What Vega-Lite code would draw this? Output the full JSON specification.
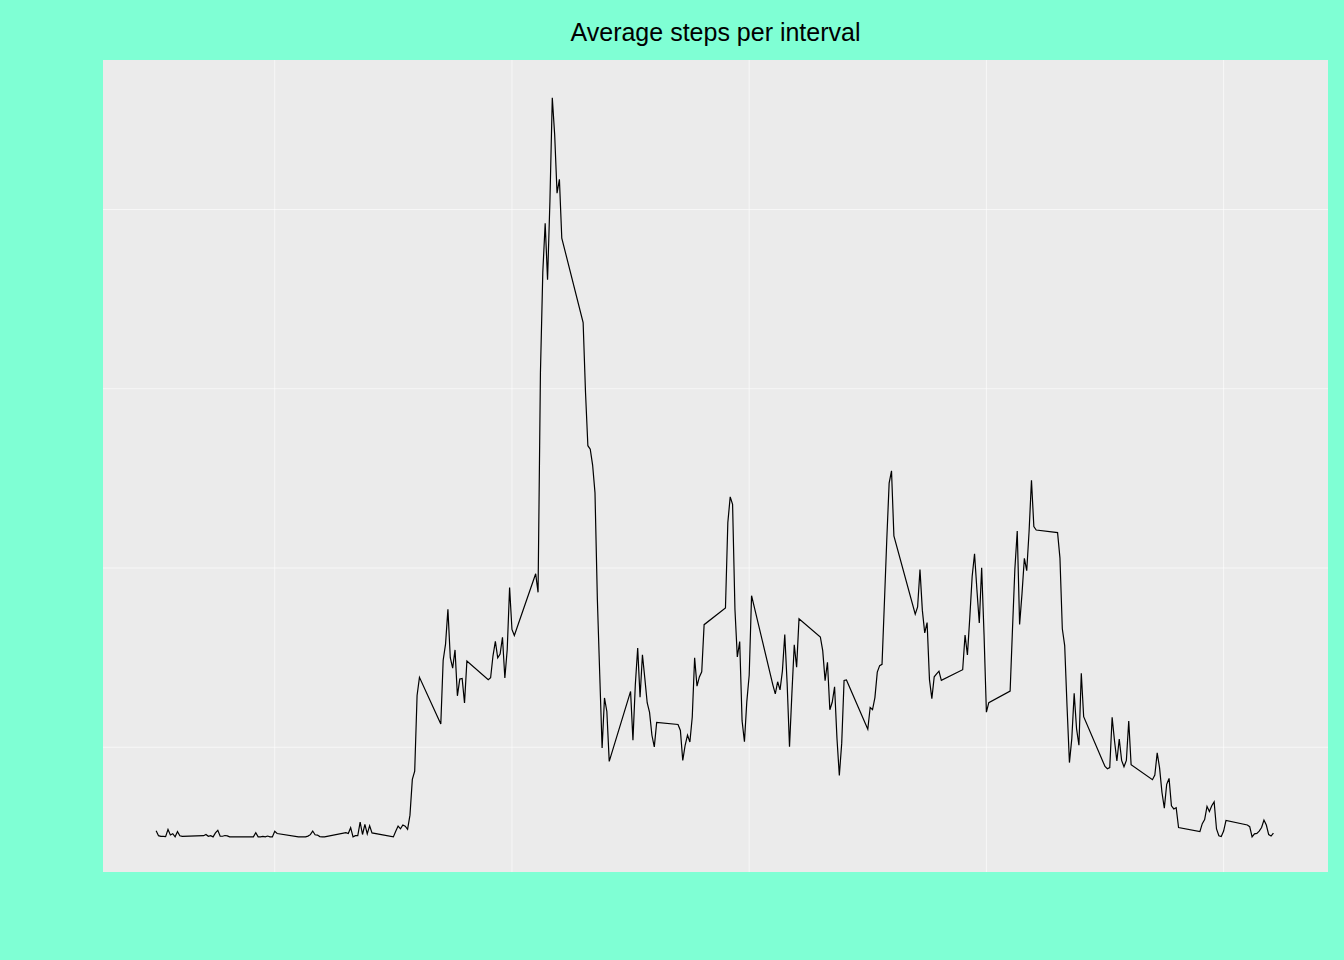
{
  "$schema": "https://vega.github.io/schema/vega-lite/v6.json",
  "autosize": {"type": "none"},
  "padding": {"left": 103, "top": 60, "right": 16, "bottom": 88},
  "width": 1225,
  "height": 812,
  "background": "#7FFFD4",
  "config": {
    "font": "Liberation Sans",
    "view": {"fill": "#EBEBEB", "stroke": null},
    "axis": {"domain": false, "gridColor": "#FFFFFF", "tickColor": "#333333", "tickSize": 5, "labelColor": "#4D4D4D", "labelFontSize": 16, "titleFontSize": 21, "titleFontWeight": "normal", "titleColor": "#000000", "labelPadding": 4}
  },
  "title": {"text": "Average steps per interval", "fontSize": 25, "fontWeight": "normal", "color": "#000000", "anchor": "middle", "offset": 14},
  "datasets": {
    "minorx": [{"v": 250}, {"v": 750}, {"v": 1250}, {"v": 1750}, {"v": 2250}],
    "minory": [{"v": 25}, {"v": 75}, {"v": 125}, {"v": 175}],
    "steps": [
{"interval":0,"steps":1.717},{"interval":5,"steps":0.34},{"interval":10,"steps":0.132},{"interval":15,"steps":0.151},{"interval":20,"steps":0.075},{"interval":25,"steps":2.094},{"interval":30,"steps":0.528},{"interval":35,"steps":0.868},{"interval":40,"steps":0},{"interval":45,"steps":1.472},{"interval":50,"steps":0.302},{"interval":55,"steps":0.132},
{"interval":100,"steps":0.321},{"interval":105,"steps":0.679},{"interval":110,"steps":0.151},{"interval":115,"steps":0.34},{"interval":120,"steps":0},{"interval":125,"steps":1.113},{"interval":130,"steps":1.83},{"interval":135,"steps":0.17},{"interval":140,"steps":0.17},{"interval":145,"steps":0.377},{"interval":150,"steps":0.264},{"interval":155,"steps":0},
{"interval":200,"steps":0},{"interval":205,"steps":0},{"interval":210,"steps":1.132},{"interval":215,"steps":0},{"interval":220,"steps":0},{"interval":225,"steps":0.132},{"interval":230,"steps":0},{"interval":235,"steps":0.226},{"interval":240,"steps":0},{"interval":245,"steps":0},{"interval":250,"steps":1.547},{"interval":255,"steps":0.943},
{"interval":300,"steps":0},{"interval":305,"steps":0},{"interval":310,"steps":0},{"interval":315,"steps":0},{"interval":320,"steps":0.208},{"interval":325,"steps":0.623},{"interval":330,"steps":1.623},{"interval":335,"steps":0.585},{"interval":340,"steps":0.491},{"interval":345,"steps":0.075},{"interval":350,"steps":0},{"interval":355,"steps":0},
{"interval":400,"steps":1.189},{"interval":405,"steps":0.943},{"interval":410,"steps":2.566},{"interval":415,"steps":0},{"interval":420,"steps":0.34},{"interval":425,"steps":0.358},{"interval":430,"steps":4.113},{"interval":435,"steps":0.66},{"interval":440,"steps":3.491},{"interval":445,"steps":0.83},{"interval":450,"steps":3.113},{"interval":455,"steps":1.113},
{"interval":500,"steps":0},{"interval":505,"steps":1.566},{"interval":510,"steps":3.0},{"interval":515,"steps":2.245},{"interval":520,"steps":3.321},{"interval":525,"steps":2.962},{"interval":530,"steps":2.094},{"interval":535,"steps":6.057},{"interval":540,"steps":16.019},{"interval":545,"steps":18.34},{"interval":550,"steps":39.453},{"interval":555,"steps":44.491},
{"interval":600,"steps":31.491},{"interval":605,"steps":49.264},{"interval":610,"steps":53.774},{"interval":615,"steps":63.453},{"interval":620,"steps":49.962},{"interval":625,"steps":47.075},{"interval":630,"steps":52.151},{"interval":635,"steps":39.34},{"interval":640,"steps":44.019},{"interval":645,"steps":44.17},{"interval":650,"steps":37.358},{"interval":655,"steps":49.038},
{"interval":700,"steps":43.811},{"interval":705,"steps":44.377},{"interval":710,"steps":50.509},{"interval":715,"steps":54.509},{"interval":720,"steps":49.925},{"interval":725,"steps":50.981},{"interval":730,"steps":55.679},{"interval":735,"steps":44.321},{"interval":740,"steps":52.264},{"interval":745,"steps":69.547},{"interval":750,"steps":57.849},{"interval":755,"steps":56.151},
{"interval":800,"steps":73.377},{"interval":805,"steps":68.208},{"interval":810,"steps":129.434},{"interval":815,"steps":157.528},{"interval":820,"steps":171.151},{"interval":825,"steps":155.396},{"interval":830,"steps":177.302},{"interval":835,"steps":206.17},{"interval":840,"steps":195.925},{"interval":845,"steps":179.566},{"interval":850,"steps":183.396},{"interval":855,"steps":167.019},
{"interval":900,"steps":143.453},{"interval":905,"steps":124.038},{"interval":910,"steps":109.113},{"interval":915,"steps":108.113},{"interval":920,"steps":103.717},{"interval":925,"steps":95.962},{"interval":930,"steps":66.208},{"interval":935,"steps":45.226},{"interval":940,"steps":24.792},{"interval":945,"steps":38.755},{"interval":950,"steps":34.981},{"interval":955,"steps":21.057},
{"interval":1000,"steps":40.566},{"interval":1005,"steps":26.981},{"interval":1010,"steps":42.415},{"interval":1015,"steps":52.66},{"interval":1020,"steps":38.925},{"interval":1025,"steps":50.792},{"interval":1030,"steps":44.283},{"interval":1035,"steps":37.415},{"interval":1040,"steps":34.698},{"interval":1045,"steps":28.34},{"interval":1050,"steps":25.094},{"interval":1055,"steps":31.943},
{"interval":1100,"steps":31.358},{"interval":1105,"steps":29.679},{"interval":1110,"steps":21.321},{"interval":1115,"steps":25.547},{"interval":1120,"steps":28.377},{"interval":1125,"steps":26.472},{"interval":1130,"steps":33.434},{"interval":1135,"steps":49.981},{"interval":1140,"steps":42.038},{"interval":1145,"steps":44.604},{"interval":1150,"steps":46.038},{"interval":1155,"steps":59.189},
{"interval":1200,"steps":63.868},{"interval":1205,"steps":87.698},{"interval":1210,"steps":94.849},{"interval":1215,"steps":92.774},{"interval":1220,"steps":63.396},{"interval":1225,"steps":50.17},{"interval":1230,"steps":54.472},{"interval":1235,"steps":32.415},{"interval":1240,"steps":26.528},{"interval":1245,"steps":37.736},{"interval":1250,"steps":45.057},{"interval":1255,"steps":67.283},
{"interval":1300,"steps":42.34},{"interval":1305,"steps":39.887},{"interval":1310,"steps":43.264},{"interval":1315,"steps":40.981},{"interval":1320,"steps":46.245},{"interval":1325,"steps":56.434},{"interval":1330,"steps":42.755},{"interval":1335,"steps":25.132},{"interval":1340,"steps":39.962},{"interval":1345,"steps":53.547},{"interval":1350,"steps":47.321},{"interval":1355,"steps":60.811},
{"interval":1400,"steps":55.755},{"interval":1405,"steps":51.962},{"interval":1410,"steps":43.585},{"interval":1415,"steps":48.698},{"interval":1420,"steps":35.472},{"interval":1425,"steps":37.547},{"interval":1430,"steps":41.849},{"interval":1435,"steps":27.509},{"interval":1440,"steps":17.113},{"interval":1445,"steps":26.075},{"interval":1450,"steps":43.623},{"interval":1455,"steps":43.774},
{"interval":1500,"steps":30.019},{"interval":1505,"steps":36.075},{"interval":1510,"steps":35.491},{"interval":1515,"steps":38.849},{"interval":1520,"steps":45.962},{"interval":1525,"steps":47.755},{"interval":1530,"steps":48.132},{"interval":1535,"steps":65.321},{"interval":1540,"steps":82.906},{"interval":1545,"steps":98.66},{"interval":1550,"steps":102.113},{"interval":1555,"steps":83.962},
{"interval":1600,"steps":62.132},{"interval":1605,"steps":64.132},{"interval":1610,"steps":74.547},{"interval":1615,"steps":63.17},{"interval":1620,"steps":56.906},{"interval":1625,"steps":59.774},{"interval":1630,"steps":43.868},{"interval":1635,"steps":38.566},{"interval":1640,"steps":44.66},{"interval":1645,"steps":45.453},{"interval":1650,"steps":46.208},{"interval":1655,"steps":43.679},
{"interval":1700,"steps":46.623},{"interval":1705,"steps":56.302},{"interval":1710,"steps":50.717},{"interval":1715,"steps":61.226},{"interval":1720,"steps":72.717},{"interval":1725,"steps":78.943},{"interval":1730,"steps":68.943},{"interval":1735,"steps":59.66},{"interval":1740,"steps":75.094},{"interval":1745,"steps":56.509},{"interval":1750,"steps":34.774},{"interval":1755,"steps":37.453},
{"interval":1800,"steps":40.679},{"interval":1805,"steps":58.019},{"interval":1810,"steps":74.698},{"interval":1815,"steps":85.321},{"interval":1820,"steps":59.264},{"interval":1825,"steps":67.774},{"interval":1830,"steps":77.698},{"interval":1835,"steps":74.245},{"interval":1840,"steps":85.34},{"interval":1845,"steps":99.453},{"interval":1850,"steps":86.585},{"interval":1855,"steps":85.604},
{"interval":1900,"steps":84.868},{"interval":1905,"steps":77.83},{"interval":1910,"steps":58.038},{"interval":1915,"steps":53.358},{"interval":1920,"steps":36.321},{"interval":1925,"steps":20.717},{"interval":1930,"steps":27.396},{"interval":1935,"steps":40.019},{"interval":1940,"steps":30.208},{"interval":1945,"steps":25.547},{"interval":1950,"steps":45.66},{"interval":1955,"steps":33.528},
{"interval":2000,"steps":19.623},{"interval":2005,"steps":19.019},{"interval":2010,"steps":19.34},{"interval":2015,"steps":33.34},{"interval":2020,"steps":26.811},{"interval":2025,"steps":21.17},{"interval":2030,"steps":27.302},{"interval":2035,"steps":21.34},{"interval":2040,"steps":19.547},{"interval":2045,"steps":21.321},{"interval":2050,"steps":32.302},{"interval":2055,"steps":20.151},
{"interval":2100,"steps":15.943},{"interval":2105,"steps":17.226},{"interval":2110,"steps":23.453},{"interval":2115,"steps":19.245},{"interval":2120,"steps":12.453},{"interval":2125,"steps":8.019},{"interval":2130,"steps":14.66},{"interval":2135,"steps":16.302},{"interval":2140,"steps":8.679},{"interval":2145,"steps":7.792},{"interval":2150,"steps":8.132},{"interval":2155,"steps":2.623},
{"interval":2200,"steps":1.453},{"interval":2205,"steps":3.679},{"interval":2210,"steps":4.811},{"interval":2215,"steps":8.509},{"interval":2220,"steps":7.075},{"interval":2225,"steps":8.698},{"interval":2230,"steps":9.755},{"interval":2235,"steps":2.208},{"interval":2240,"steps":0.321},{"interval":2245,"steps":0.113},{"interval":2250,"steps":1.604},{"interval":2255,"steps":4.604},
{"interval":2300,"steps":3.302},{"interval":2305,"steps":2.849},{"interval":2310,"steps":0},{"interval":2315,"steps":0.83},{"interval":2320,"steps":0.962},{"interval":2325,"steps":1.585},{"interval":2330,"steps":2.604},{"interval":2335,"steps":4.698},{"interval":2340,"steps":3.302},{"interval":2345,"steps":0.642},{"interval":2350,"steps":0.226},{"interval":2355,"steps":1.075}
    ]
  },
  "layer": [
    {
      "data": {"name": "minorx"},
      "mark": {"type": "rule", "color": "#FFFFFF", "strokeWidth": 0.6},
      "encoding": {"x": {"field": "v", "type": "quantitative", "axis": null}}
    },
    {
      "data": {"name": "minory"},
      "mark": {"type": "rule", "color": "#FFFFFF", "strokeWidth": 0.6},
      "encoding": {"y": {"field": "v", "type": "quantitative", "axis": null}}
    },
    {
      "data": {"name": "steps"},
      "mark": {"type": "line", "color": "#000000", "strokeWidth": 1.2},
      "encoding": {
        "x": {"field": "interval", "type": "quantitative", "title": "Interval",
              "scale": {"domain": [-112, 2470], "nice": false, "zero": false},
              "axis": {"values": [0, 500, 1000, 1500, 2000], "gridWidth": 1.2, "titlePadding": 6}},
        "y": {"field": "steps", "type": "quantitative", "title": "Avg steps",
              "scale": {"domain": [-9.8, 216.7], "nice": false, "zero": false},
              "axis": {"values": [0, 50, 100, 150, 200], "gridWidth": 1.2, "titlePadding": 10}}
      }
    }
  ]
}
